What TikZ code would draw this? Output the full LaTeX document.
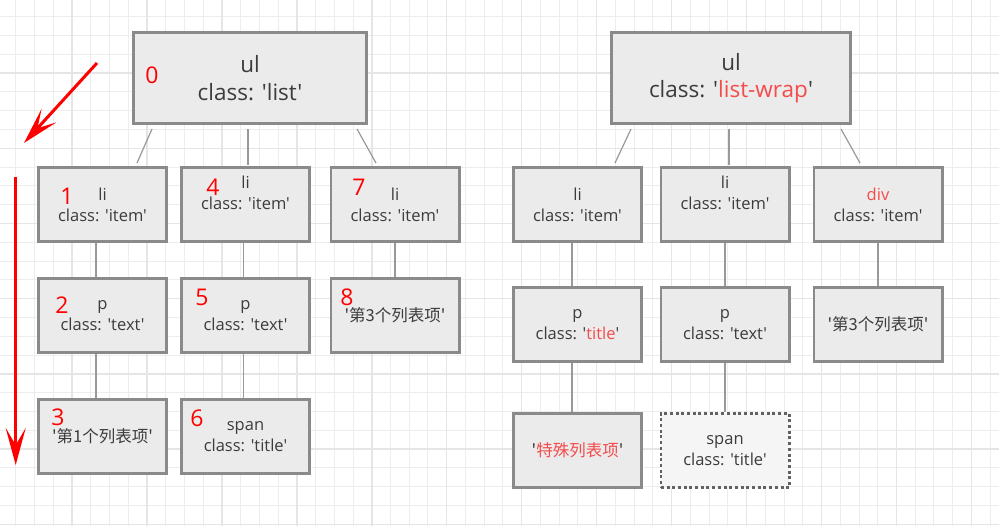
\documentclass[tikz,border=0pt]{standalone}
\usepackage{fontspec}
\setmainfont{Open Sans}[Ligatures=TeXOff]
\newfontfamily\cjk{Noto Sans CJK SC}
\usepackage{xcolor}
\usetikzlibrary{arrows.meta}
\definecolor{boxfill}{HTML}{EBEBEB}
\definecolor{boxline}{HTML}{8A8A8A}
\definecolor{txt}{HTML}{3C3C3C}
\definecolor{hot}{HTML}{F54B4B}
\colorlet{gridminor}{black!7}
\colorlet{gridmajor}{black!10}

\begin{document}
\begin{tikzpicture}[
		x=1pt, y=-1pt,
		Boxes/.style={draw=boxline, fill=boxfill, line width=2.6pt, minimum width=128.4pt, minimum height=74.4pt, inner sep=0pt, align=center, text=txt, font=\fontsize{16.5}{21}\selectfont},
		RootBox/.style={Boxes, minimum width=233.4pt, minimum height=91.4pt, font=\fontsize{22.5}{27.5}\selectfont},
		GhostBox/.style={Boxes, fill=black!4, draw=black!62, dash pattern=on 3pt off 2.7pt},
		Lifted/.style={text depth=24pt},
		Links/.style={draw=black!40, line width=1.2pt},
		StepNum/.style={text=red, inner sep=0pt, font=\fontsize{23}{23}\selectfont},
		RedArrow/.style={draw=red, line width=3pt, -{Stealth[length=37pt, width=20pt, inset=17pt]}}
		]
		\fill[white] (0,0) rectangle (999,526);
		\useasboundingbox (0,0) rectangle (999,526);
		
		% grid paper
		\foreach \i in {0,...,52}
			\draw[gridminor, line width=1pt] (15.7+18.74*\i,0) -- (15.7+18.74*\i,526);
		\foreach \j in {0,...,27}
			\draw[gridminor, line width=1pt] (0,16.7+18.8*\j) -- (999,16.7+18.8*\j);
		\foreach \i in {3,7,...,51}
			\draw[gridmajor, line width=1.5pt] (15.7+18.74*\i,0) -- (15.7+18.74*\i,526);
		\foreach \j in {3,7,...,27}
			\draw[gridmajor, line width=1.5pt] (0,16.7+18.8*\j) -- (999,16.7+18.8*\j);
		
		% order of the walk
		\coordinate (DiagTail) at (97,63);
		\coordinate (DiagHead) at (24,143);
		\coordinate (DownTail) at (15.7,177);
		\coordinate (DownHead) at (15.7,465);
		\draw[RedArrow] (DiagTail) -- (DiagHead);
		\draw[RedArrow] (DownTail) -- (DownHead);
		
		% left tree
		\node[RootBox] (ulList) at (250,78) {ul\\class: 'list'};
		
		\node[Boxes] (liOne) at (102.5,204.5) {li\\class: 'item'};
		\node[Boxes, Lifted] (liTwo) at (245.5,204.5) {li\\class: 'item'};
		\node[Boxes] (liThree) at (395,204.5) {li\\class: 'item'};
		
		\node[Boxes] (pOne) at (102.5,315.5) {p\\class: 'text'};
		\node[Boxes] (pTwo) at (245.5,315.5) {p\\class: 'text'};
		\node[Boxes] (txtThree) at (395,315.5) {\cjk '第3个列表项'};
		
		\node[Boxes] (txtOne) at (102.5,436.5) {\cjk '第1个列表项'};
		\node[Boxes] (spanTwo) at (245.5,436.5) {span\\class: 'title'};
		
		\draw[Links] ([xshift=20pt,yshift=-4pt]ulList.south west) -- ([xshift=34.5pt,yshift=3pt]liOne.north);
		\draw[Links] ([xshift=-2pt,yshift=-4pt]ulList.south) -- ([xshift=2.5pt,yshift=1pt]liTwo.north);
		\draw[Links] ([xshift=-11pt,yshift=-4pt]ulList.south east) -- ([xshift=-19pt,yshift=3pt]liThree.north);
		\draw[Links] ([xshift=-6.5pt]liOne.south) -- ([xshift=-6.5pt]pOne.north);
		\draw[Links] ([xshift=-2pt]liTwo.south) -- ([xshift=-2pt]pTwo.north);
		\draw[Links] (liThree.south) -- (txtThree.north);
		\draw[Links] ([xshift=-6.5pt]pOne.south) -- ([xshift=-6.5pt]txtOne.north);
		\draw[Links] ([xshift=-2pt]pTwo.south) -- ([xshift=-2pt]spanTwo.north);
		
		% right tree
		\node[RootBox, minimum width=239.4pt] (ulWrap) at (731,78) {ul\\class: '\textcolor{hot}{list-wrap}'};
		
		\node[Boxes] (liA) at (577.5,204.5) {li\\class: 'item'};
		\node[Boxes, Lifted] (liB) at (725,204.5) {li\\class: 'item'};
		\node[Boxes] (divC) at (878,204.5) {\textcolor{hot}{div}\\class: 'item'};
		
		\node[Boxes] (pA) at (577.5,324.5) {p\\class: '\textcolor{hot}{title}'};
		\node[Boxes] (pB) at (725,324.5) {p\\class: 'text'};
		\node[Boxes] (txtC) at (878,324.5) {\cjk '第3个列表项'};
		
		\node[Boxes] (txtA) at (577.5,450.5) {\cjk '\textcolor{hot}{特殊列表项}'};
		\node[GhostBox] (spanB) at (725,450.5) {span\\class: 'title'};
		
		\draw[Links] ([xshift=21pt,yshift=-4pt]ulWrap.south west) -- ([xshift=37.5pt,yshift=3pt]liA.north);
		\draw[Links] ([xshift=-2pt,yshift=-4pt]ulWrap.south) -- ([xshift=4pt,yshift=1pt]liB.north);
		\draw[Links] ([xshift=-11pt,yshift=-4pt]ulWrap.south east) -- ([xshift=-18pt,yshift=3pt]divC.north);
		\draw[Links] ([xshift=-5.5pt]liA.south) -- ([xshift=-5.5pt]pA.north);
		\draw[Links] (liB.south) -- (pB.north);
		\draw[Links] (divC.south) -- (txtC.north);
		\draw[Links] ([xshift=-5.5pt]pA.south) -- ([xshift=-5.5pt]txtA.north);
		\draw[Links] (pB.south) -- (spanB.north);
		
		% visiting numbers
		\foreach \n/\x/\y in {0/152/75, 1/67/196, 2/62/305, 3/58/417, 4/213/187, 5/202/297, 6/197/418, 7/359/187, 8/347/297}
			\node[StepNum] (step\n) at (\x,\y) {\n};
		
\end{tikzpicture}
\end{document}
